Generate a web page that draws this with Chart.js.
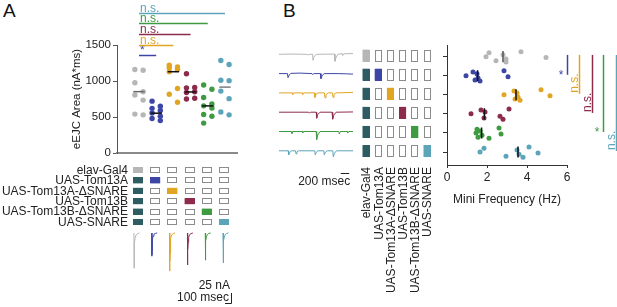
<!DOCTYPE html>
<html>
<head>
<meta charset="utf-8">
<script src="https://cdn.jsdelivr.net/npm/chart.js@4.4.0/dist/chart.umd.min.js"></script>
<style>
  html, body { margin: 0; padding: 0; background: #fff; }
  #wrap { position: relative; width: 617px; height: 307px; overflow: hidden;
          font-family: "Liberation Sans", Arial, sans-serif; color: #111; }
  #wrap canvas { position: absolute; left: 0; top: 0; }
  .letter { position: absolute; font-size: 19px; line-height: 1; }
</style>
</head>
<body>
<div id="wrap">
  <div class="letter" style="left:3px;top:1px">A</div>
  <div class="letter" style="left:283px;top:1px">B</div>
  <canvas id="areaChart" width="617" height="307"></canvas>
  <canvas id="areaTraces" width="617" height="307"></canvas>
  <canvas id="freqChart" width="617" height="307"></canvas>
  <canvas id="freqTraces" width="617" height="307"></canvas>
</div>
<script>
// genotypes, in column order
const groupNames = ["elav-Gal4", "UAS-Tom13A", "UAS-Tom13A-\u0394SNARE", "UAS-Tom13B", "UAS-Tom13B-\u0394SNARE", "UAS-SNARE"];
const groupColors = ["#b6b6b6", "#3d46a6", "#e2a522", "#8d2b4d", "#3f9b41", "#5ca4b9"];
const gal4Color = "#2e5c63";

// A: eEJC area (nA*ms)
const areaGray   = [1160, 1150, 975, 850, 805, 735, 540, 530];
const areaBlue   = [720, 650, 620, 590, 555, 510, 480, 450];
const areaYellow = [1220, 1195, 1185, 1160, 1130, 895, 815, 705];
const areaMaroon = [1100, 910, 905, 850, 840, 760, 750];
const areaGreen  = [945, 885, 770, 680, 655, 625, 535, 510, 415];
const areaCyan   = [1285, 1230, 1010, 1005, 860, 755, 570, 530];
const areaLine   = [852, 553, 1129, 848, 654, 915];
const areaTicks  = [0, 500, 1000, 1500];

// A: significance vs control
const sigLabelsA = ["*", "n.s.", "n.s.", "n.s.", "n.s."];
const sigLevelsA = [1360, 1505, 1655, 1800, 1950];

// A: example eEJC traces (ms, nA)
const traceTimeA = [0, 1, 2, 4, 7, 12, 20, 35, 60, 90];
const traceGray   = [0, -88, -84, -65, -45, -25, -12, -5, -1.5, 0];
const traceBlue   = [0, -58, -55, -43, -30, -17, -8, -3, -1, 0];
const traceYellow = [0, -95, -91, -70, -49, -27, -13, -5, -1.5, 0];
const traceMaroon = [0, -80, -77, -59, -41, -23, -11, -4.5, -1.5, 0];
const traceGreen  = [0, -68, -65, -50, -35, -19, -9, -4, -1, 0];
const traceCyan   = [0, -75, -72, -55, -38, -21, -10, -4, -1, 0];

// B: mini frequency (Hz)
const freqGray   = [1.95, 2.1, 2.45, 2.8, 2.95, 2.95, 3.7, 4.95];
const freqBlue   = [0.95, 1.3, 1.4, 1.5, 1.55, 1.65, 2.85, 3.05];
const freqYellow = [2.85, 3.35, 3.4, 3.5, 3.55, 3.65, 4.7, 5.15];
const freqMaroon = [1.2, 1.7, 1.85, 1.9, 2.65, 2.8, 3.1];
const freqGreen  = [1.45, 1.5, 1.55, 1.65, 1.75, 2.1, 2.6, 2.7];
const freqCyan   = [1.65, 1.85, 2.95, 3.5, 3.6, 3.8, 4.1, 4.55];
const freqLine   = [2.8, 1.53, 3.45, 1.87, 1.73, 3.55];
const freqTicks  = [0, 2, 4, 6];

// B: significance vs control
const sigLabelsB = ["*", "n.s.", "n.s.", "*", "n.s."];
const sigXB      = [6.0, 6.6, 7.25, 7.8, 8.45];

// B: example mini traces, [ms, nA]
const miniGray = [[0,0],[300,0.05],[660,0],[678,-0.2],[700,0],[795,0],[804,-1.2],[830,-0.5],[880,0],[1310,0.05],[1324,-1.4],[1350,-0.6],[1400,0.05],[1490,0.1],[1506,-0.2],[1530,0.1],[1750,0.15]];
const miniBlue = [[0,0],[200,0],[213,-0.8],[240,-0.3],[280,0.05],[500,0.1],[780,0],[797,-0.2],[820,0],[980,0],[993,-1.0],[1020,-0.4],[1070,0],[1400,0],[1600,-0.05],[1750,-0.1]];
const miniYellow = [[0,0],[310,0],[324,-0.3],[345,0],[545,0],[560,-0.3],[580,0],[840,0],[851,-0.9],[875,-0.3],[920,0],[1075,0],[1088,-1.0],[1110,-0.4],[1160,0],[1265,0],[1277,-0.9],[1300,-0.3],[1350,0],[1750,0.1]];
const miniMaroon = [[0,0],[500,0],[700,0],[717,-0.2],[740,0],[880,0],[891,-1.2],[915,-0.5],[970,0],[1255,0],[1269,-1.4],[1295,-0.6],[1350,0],[1750,0.05]];
const miniGreen = [[0,0],[295,0],[307,-0.4],[330,0],[548,0],[560,-0.3],[580,0],[880,0],[891,-1.6],[915,-0.7],[970,0],[1415,0],[1426,-0.5],[1450,0],[1610,0],[1624,-0.3],[1650,0],[1750,0]];
const miniCyan = [[0,0],[217,0],[229,-0.8],[255,-0.3],[300,0],[390,0],[402,-0.6],[425,-0.2],[460,0],[846,0],[858,-0.8],[880,-0.3],[920,0],[1060,0],[1071,-0.8],[1095,-0.3],[1140,0],[1272,0],[1284,-1.2],[1310,-0.5],[1360,0],[1750,0]];

Chart.defaults.font.family = '"Liberation Sans", Arial, sans-serif';
Chart.defaults.font.size = 12;
Chart.defaults.color = "#222";
Chart.defaults.animation = false;

const FONT = '"Liberation Sans", Arial, sans-serif';
const noPlugins = { legend: { display: false }, tooltip: { enabled: false } };

// draws one genotype box
function box(ctx, cx, cy, w, h, fill) {
  ctx.fillStyle = fill || "#fff";
  ctx.fillRect(cx - w / 2, cy - h / 2, w, h);
  ctx.strokeStyle = fill ? fill : "#8c8c8c";
  ctx.lineWidth = 1;
  ctx.strokeRect(Math.round(cx - w / 2) + 0.5, Math.round(cy - h / 2) + 0.5, w - 1, h - 1);
}
function boxFill(row, col) {
  if (col === 0) return row === 0 ? groupColors[0] : gal4Color;
  return row === col ? groupColors[col] : null;
}

// ---------- Panel A: scatter ----------
const areaSets = [areaGray, areaBlue, areaYellow, areaMaroon, areaGreen, areaCyan];
const meanColorsA = ["#6a6a6a", "#111", "#111", "#111", "#111", "#7d7d7d"];

const areaDecor = {
  id: "areaDecor",
  afterDraw(chart) {
    const { ctx, scales: { x, y } } = chart;
    ctx.save();
    // significance bars
    sigLevelsA.forEach((lvl, k) => {
      const py = Math.round(y.getPixelForValue(lvl)) + 0.5;
      const x0 = x.getPixelForValue(1), x1 = x.getPixelForValue(k + 2);
      ctx.strokeStyle = groupColors[k + 1];
      ctx.lineWidth = 1.5;
      ctx.beginPath(); ctx.moveTo(x0, py); ctx.lineTo(x1, py); ctx.stroke();
      ctx.fillStyle = groupColors[k + 1];
      ctx.font = "12px " + FONT;
      ctx.textAlign = "left"; ctx.textBaseline = "alphabetic";
      ctx.fillText(sigLabelsA[k], x0 + 1, py - 2);
    });
    // genotype table
    ctx.font = "12px " + FONT;
    ctx.textAlign = "right"; ctx.textBaseline = "middle";
    groupNames.forEach((name, r) => {
      const cy = 170 + r * 10.4;
      ctx.fillStyle = "#222";
      ctx.fillText(name, 128, cy + 0.5);
      for (let c = 0; c < 6; c++) {
        box(ctx, x.getPixelForValue(c + 1) - 1, cy, 10, 6, boxFill(r, c));
      }
    });
    ctx.restore();
  }
};

new Chart(document.getElementById("areaChart"), {
  type: "scatter",
  data: {
    datasets: [
      ...areaLine.map((m, g) => ({
        data: [{ x: g + 0.67, y: m }, { x: g + 1.33, y: m }],
        showLine: true, borderColor: meanColorsA[g], borderWidth: 1.5, pointRadius: 0, order: 1
      })),
      ...areaSets.map((vals, g) => ({
        data: vals.map((v, i) => ({ x: g + 1 + (i % 2 ? 0.24 : -0.24), y: v })),
        backgroundColor: groupColors[g], borderWidth: 0, pointRadius: 2.7, order: 2
      }))
    ]
  },
  options: {
    responsive: false,
    events: [],
    layout: { padding: { left: 67, right: 380, top: 45, bottom: 154 } },
    scales: {
      x: {
        type: "linear", min: -0.28, max: 6.7,
        grid: { display: false },
        ticks: { display: false },
        border: { color: "#8a8a8a", width: 2 },
        afterFit: (s) => { s.height = 0; }
      },
      y: {
        min: 0, max: 1500,
        afterBuildTicks: (s) => { s.ticks = areaTicks.map(v => ({ value: v })); },
        grid: { drawOnChartArea: false, tickLength: 4, color: "#555" },
        border: { color: "#555", width: 1 },
        ticks: { padding: 2, color: "#222", font: { size: 11.5 }, callback: (v) => String(v) },
        title: { display: true, text: "eEJC Area (nA*ms)", padding: { top: 3 }, color: "#222", font: { size: 11.5 } },
        afterFit: (s) => { s.width = 50; }
      }
    },
    plugins: noPlugins
  },
  plugins: [areaDecor]
});

// ---------- Panel A: traces ----------
const tracesA = [traceGray, traceBlue, traceYellow, traceMaroon, traceGreen, traceCyan];
const traceGapA = 297; // ms between trace columns

const scaleBarA = {
  id: "scaleBarA",
  afterDraw(chart) {
    const { ctx, scales: { x, y } } = chart;
    const xr = x.getPixelForValue(1617), xl = x.getPixelForValue(1517);
    const yt = y.getPixelForValue(-150), yb = y.getPixelForValue(-175);
    ctx.save();
    ctx.strokeStyle = "#222"; ctx.lineWidth = 1;
    ctx.beginPath();
    ctx.moveTo(Math.round(xr) + 0.5, yt); ctx.lineTo(Math.round(xr) + 0.5, Math.round(yb) + 0.5);
    ctx.lineTo(xl, Math.round(yb) + 0.5);
    ctx.stroke();
    ctx.fillStyle = "#222"; ctx.font = "12px " + FONT;
    ctx.textAlign = "right"; ctx.textBaseline = "middle";
    ctx.fillText("25 nA", xr - 1, 286);
    ctx.fillText("100 msec", xr - 2, 298);
    ctx.restore();
  }
};

new Chart(document.getElementById("areaTraces"), {
  type: "scatter",
  data: {
    datasets: tracesA.map((vals, c) => ({
      data: traceTimeA.map((t, k) => ({ x: c * traceGapA + t, y: vals[k] })),
      showLine: true, borderColor: groupColors[c], borderWidth: 1, pointRadius: 0
    }))
  },
  options: {
    responsive: false, events: [],
    layout: { padding: 0 },
    scales: {
      x: { type: "linear", display: false, min: -2233, max: 8050 },
      y: { display: false, min: -185, max: 582.5 }
    },
    plugins: noPlugins
  },
  plugins: [scaleBarA]
});

// ---------- Panel B: scatter ----------
const freqSets = [freqGray, freqBlue, freqYellow, freqMaroon, freqGreen, freqCyan];
const rowJitter = [0, -0.2, 0.22, -0.1, 0.12, 0.28, -0.26, 0.05, -0.15];
const meanColorsB = ["#555", "#111", "#111", "#111", "#111", "#111"];

const freqDecor = {
  id: "freqDecor",
  afterDraw(chart) {
    const { ctx, scales: { x, y } } = chart;
    ctx.save();
    // significance bars
    sigXB.forEach((sx, k) => {
      const px = Math.round(x.getPixelForValue(sx)) + 0.5;
      const y0 = y.getPixelForValue(-0.09), y1 = y.getPixelForValue(k + 1 - 0.05);
      const col = groupColors[k + 1];
      ctx.strokeStyle = col; ctx.lineWidth = 1.5;
      ctx.beginPath(); ctx.moveTo(px, y0); ctx.lineTo(px, y1); ctx.stroke();
      ctx.fillStyle = col; ctx.font = "12px " + FONT;
      if (sigLabelsB[k] === "*") {
        ctx.textAlign = "right"; ctx.textBaseline = "middle";
        ctx.fillText("*", px - 4, y1 + 1);
      } else {
        ctx.save();
        ctx.translate(px - 2, y1 - 1);
        ctx.rotate(-Math.PI / 2);
        ctx.textAlign = "left"; ctx.textBaseline = "alphabetic";
        ctx.fillText(sigLabelsB[k], 0, 0);
        ctx.restore();
      }
    });
    // genotype boxes and rotated labels
    for (let r = 0; r < 6; r++) {
      const cy = y.getPixelForValue(r) - 1;
      for (let c = 0; c < 6; c++) box(ctx, 366 + c * 12.2, cy, 7, 12, boxFill(r, c));
    }
    ctx.fillStyle = "#222"; ctx.font = "12px " + FONT;
    groupNames.forEach((name, c) => {
      ctx.save();
      ctx.translate(367 + c * 12.2, 167);
      ctx.rotate(-Math.PI / 2);
      ctx.textAlign = "right"; ctx.textBaseline = "middle";
      ctx.fillText(name, 0, 0);
      ctx.restore();
    });
    ctx.restore();
  }
};

new Chart(document.getElementById("freqChart"), {
  type: "scatter",
  data: {
    datasets: [
      ...freqLine.map((m, r) => ({
        data: [{ x: m, y: r - 0.29 }, { x: m, y: r + 0.29 }],
        showLine: true, borderColor: meanColorsB[r], borderWidth: 1.5, pointRadius: 0, order: 1
      })),
      ...freqSets.map((vals, r) => ({
        data: vals.map((v, i) => ({ x: v, y: r + rowJitter[i % rowJitter.length] })),
        backgroundColor: groupColors[r], borderWidth: 0, pointRadius: 2.5, order: 2
      }))
    ]
  },
  options: {
    responsive: false, events: [],
    layout: { padding: { left: 427, right: 50, top: 45, bottom: 100 } },
    scales: {
      x: {
        type: "linear", min: 0, max: 6,
        afterBuildTicks: (s) => { s.ticks = freqTicks.map(v => ({ value: v })); },
        grid: { drawOnChartArea: false, tickLength: 3, color: "#333" },
        border: { color: "#333", width: 1 },
        ticks: { padding: 2, color: "#222" },
        title: { display: true, text: "Mini Frequency (Hz)", padding: { top: 4, bottom: 0 }, color: "#222" },
        afterFit: (s) => { s.height = 42; }
      },
      y: {
        min: -0.61, max: 5.68, reverse: true,
        afterBuildTicks: (s) => { s.ticks = [0, 1, 2, 3, 4, 5].map(v => ({ value: v })); },
        grid: { drawOnChartArea: false, tickLength: 4, color: "#333" },
        border: { color: "#333", width: 1 },
        ticks: { display: false },
        afterFit: (s) => { s.width = 20; }
      }
    },
    plugins: noPlugins
  },
  plugins: [freqDecor]
});

// ---------- Panel B: mini traces ----------
const minis = [miniGray, miniBlue, miniYellow, miniMaroon, miniGreen, miniCyan];
const rowGapNA = 3.86; // vertical spacing of the trace rows, nA

const scaleBarB = {
  id: "scaleBarB",
  afterDraw(chart) {
    const { ctx, scales: { x, y } } = chart;
    const yb = Math.round(y.getPixelForValue(-23.74)) + 0.5;
    const x0 = x.getPixelForValue(1460), x1 = x.getPixelForValue(1660);
    ctx.save();
    ctx.strokeStyle = "#222"; ctx.lineWidth = 1;
    ctx.beginPath(); ctx.moveTo(x0, yb); ctx.lineTo(x1, yb); ctx.stroke();
    ctx.fillStyle = "#222"; ctx.font = "12px " + FONT;
    ctx.textAlign = "right"; ctx.textBaseline = "middle";
    ctx.fillText("200 msec", x1 + 1, 182);
    ctx.restore();
  }
};

new Chart(document.getElementById("freqTraces"), {
  type: "scatter",
  data: {
    datasets: minis.map((pts, r) => ({
      data: pts.map(([t, v]) => ({ x: t, y: v - r * rowGapNA })),
      showLine: true, borderColor: groupColors[r], borderWidth: 1, pointRadius: 0
    }))
  },
  options: {
    responsive: false, events: [],
    layout: { padding: 0 },
    scales: {
      x: { type: "linear", display: false, min: -6598, max: 7993 },
      y: { display: false, min: -50.54, max: 10.86 }
    },
    plugins: noPlugins
  },
  plugins: [scaleBarB]
});
</script>
</body>
</html>
